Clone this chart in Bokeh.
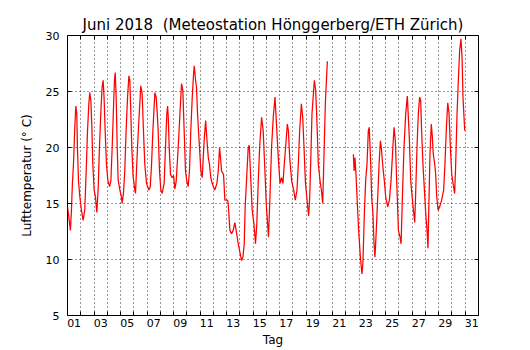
import numpy as np
from bokeh.plotting import figure
from bokeh.models import FixedTicker, LinearAxis, Range1d, CustomJSTickFormatter
from bokeh.embed import file_html
from bokeh.resources import INLINE

# Tag (1.0 = 1. Juni 00:00), Lufttemperatur in Grad C
tag_a = [1.00, 1.10, 1.22, 1.30, 1.37, 1.45, 1.55, 1.63, 1.70, 1.75,
         1.83, 1.93, 2.05, 2.18, 2.30, 2.41, 2.51, 2.61, 2.68, 2.76,
         2.83, 2.91, 3.01, 3.11, 3.21, 3.31, 3.41, 3.51, 3.61, 3.69,
         3.76, 3.84, 3.94, 4.04, 4.17, 4.27, 4.37, 4.47, 4.54, 4.60,
         4.67, 4.75, 4.82, 4.95, 5.07, 5.12, 5.22, 5.32, 5.42, 5.53,
         5.63, 5.70, 5.78, 5.85, 5.95, 6.08, 6.13, 6.28, 6.41, 6.53,
         6.63, 6.73, 6.83, 6.96, 7.14, 7.24, 7.34, 7.44, 7.59, 7.69,
         7.77, 7.84, 7.94, 8.04, 8.14, 8.29, 8.39, 8.49, 8.55, 8.60,
         8.67, 8.77, 8.90, 9.00, 9.10, 9.20, 9.35, 9.48, 9.60, 9.70,
         9.80, 9.90, 10.00, 10.10, 10.20, 10.30, 10.41, 10.51, 10.56, 10.66,
         10.73, 10.81, 10.91, 11.06, 11.16, 11.30, 11.42, 11.50, 11.56, 11.62,
         11.71, 11.81, 11.91, 12.01, 12.11, 12.27, 12.37, 12.47, 12.54, 12.62,
         12.77, 12.87, 13.07, 13.12, 13.25, 13.37, 13.50, 13.62, 13.72, 13.88,
         13.98, 14.13, 14.23, 14.33, 14.40, 14.50, 14.63, 14.71, 14.83, 14.93,
         15.06, 15.18, 15.28, 15.39, 15.49, 15.64, 15.76, 15.89, 15.99, 16.09,
         16.16, 16.27, 16.39, 16.52, 16.65, 16.72, 16.83, 16.93, 17.03, 17.15,
         17.25, 17.35, 17.45, 17.58, 17.66, 17.76, 17.91, 18.06, 18.18, 18.31,
         18.41, 18.51, 18.64, 18.74, 18.84, 18.94, 19.09, 19.19, 19.27, 19.34,
         19.44, 19.62, 19.72, 19.82, 19.92, 20.05, 20.15, 20.25, 20.35, 20.45,
         20.60]
temp_a = [14.7, 13.8, 12.6, 14.5, 16.8, 18.5, 21.8, 23.7, 23.0, 20.0,
          17.0, 15.6, 14.4, 13.5, 14.4, 17.9, 21.5, 23.9, 24.9, 24.2,
          22.1, 18.5, 16.2, 15.6, 14.2, 16.2, 20.0, 23.0, 25.4, 26.0,
          24.4, 21.5, 18.5, 17.1, 16.5, 17.0, 20.0, 23.6, 26.0, 26.7,
          24.5, 20.0, 17.1, 16.2, 15.6, 15.0, 15.9, 17.9, 21.5, 24.5,
          26.4, 26.0, 23.0, 20.0, 17.4, 16.2, 15.9, 20.0, 23.0, 25.5,
          24.8, 21.5, 18.5, 16.8, 16.2, 16.5, 18.5, 21.5, 24.9, 24.5,
          23.0, 21.5, 17.9, 16.2, 15.9, 16.8, 20.0, 23.0, 23.7, 22.7,
          20.0, 17.6, 17.3, 17.5, 16.3, 17.0, 20.0, 23.0, 25.7, 25.1,
          21.5, 17.9, 17.0, 16.5, 17.9, 21.5, 24.5, 26.6, 27.3, 26.0,
          25.4, 23.0, 20.9, 17.9, 17.3, 20.5, 22.4, 21.0, 20.0, 19.1,
          18.5, 17.3, 16.8, 16.5, 16.2, 16.8, 17.9, 20.0, 19.1, 17.9,
          17.6, 15.3, 15.3, 15.0, 12.6, 12.3, 12.6, 13.3, 12.6, 11.4,
          10.8, 9.9, 10.2, 11.4, 14.7, 17.0, 20.0, 20.2, 17.0, 14.4,
          13.2, 11.4, 13.2, 17.0, 20.0, 22.7, 21.5, 17.9, 15.0, 13.2,
          12.0, 15.6, 20.0, 22.7, 24.5, 23.0, 20.6, 18.5, 16.8, 17.3,
          16.8, 18.5, 20.0, 22.1, 21.5, 19.1, 17.0, 16.2, 15.3, 16.2,
          18.5, 21.5, 23.9, 22.7, 20.0, 17.0, 15.0, 13.9, 15.6, 18.5,
          23.0, 26.0, 25.1, 22.1, 18.5, 17.0, 16.2, 15.0, 19.5, 24.0,
          27.7]

tag_b = [22.56, 22.62, 22.68, 22.76, 22.86, 22.96, 23.09, 23.21, 23.28, 23.39,
         23.49, 23.59, 23.69, 23.76, 23.87, 23.94, 24.04, 24.12, 24.19, 24.29,
         24.40, 24.50, 24.60, 24.67, 24.77, 24.90, 25.00, 25.15, 25.28, 25.40,
         25.50, 25.63, 25.73, 25.83, 25.96, 26.08, 26.16, 26.26, 26.38, 26.51,
         26.63, 26.71, 26.79, 26.89, 27.04, 27.19, 27.26, 27.36, 27.46, 27.56,
         27.64, 27.71, 27.81, 27.92, 28.02, 28.12, 28.19, 28.27, 28.34, 28.44,
         28.52, 28.59, 28.70, 28.77, 28.85, 28.95, 29.07, 29.22, 29.37, 29.47,
         29.58, 29.68, 29.78, 29.88, 29.98, 30.08, 30.20, 30.28, 30.38, 30.48,
         30.58, 30.68, 30.76, 30.83, 30.96]
temp_b = [19.4, 17.9, 19.1, 17.6, 15.0, 12.6, 10.2, 8.7, 9.6, 14.1,
          17.1, 18.5, 21.5, 21.8, 18.5, 15.6, 14.1, 11.4, 10.2, 12.6,
          15.6, 18.5, 20.6, 20.0, 18.5, 17.0, 15.6, 14.7, 15.3, 17.0,
          19.1, 21.8, 20.6, 17.0, 12.6, 12.0, 11.4, 15.6, 20.0, 23.0,
          24.6, 22.7, 20.6, 17.0, 15.0, 13.3, 15.9, 20.0, 23.0, 24.5,
          24.2, 21.5, 18.5, 16.2, 14.1, 12.6, 11.0, 15.6, 19.4, 22.1,
          20.9, 19.4, 18.5, 17.6, 15.6, 14.4, 14.7, 15.3, 16.2, 18.5,
          21.8, 24.0, 23.0, 20.0, 17.6, 16.8, 15.9, 18.5, 23.0, 26.0,
          28.7, 29.7, 28.0, 24.5, 21.5]

day_bounds = list(range(2, 32))            # Tagesgrenzen (Gitter)
label_days = list(range(1, 32, 2))         # beschriftete Tage
y_ticks = [5, 10, 15, 20, 25, 30]

FONT = "DejaVu Sans"

p = figure(width=530, height=350, x_range=Range1d(1, 32), y_range=Range1d(5, 30),
           output_backend="svg", toolbar_location=None,
           min_border_left=67, min_border_right=52, min_border_top=35, min_border_bottom=35,
           background_fill_color="white", border_fill_color="white")

p.title.text = "Juni 2018\u00a0 (Meteostation Hönggerberg/ETH Zürich)"
p.title.align = "center"
p.title.text_font = FONT
p.title.text_font_size = "15px"
p.title.text_font_style = "normal"
p.title.text_color = "black"
p.title.standoff = 4

p.outline_line_color = "black"
p.outline_line_width = 1
p.outline_line_alpha = 1

x = list(tag_a) + [np.nan] + list(tag_b)
y = list(temp_a) + [np.nan] + list(temp_b)
p.line(x, y, line_color="red", line_width=1.25)

# bottom axis: labels at day centres, tick marks at day boundaries
xa = p.xaxis[0]
xa.ticker = FixedTicker(ticks=[d + 0.5 for d in label_days], minor_ticks=day_bounds)
xa.formatter = CustomJSTickFormatter(code="return String(Math.floor(tick)).padStart(2, '0');")
xa.major_tick_in = 0
xa.major_tick_out = 0
xa.minor_tick_in = 4
xa.minor_tick_out = 0
xa.minor_tick_line_color = "black"
xa.axis_line_color = None
xa.major_label_text_font = FONT
xa.major_label_text_font_size = "11px"
xa.major_label_text_color = "black"
xa.major_label_standoff = 3
xa.axis_label = "Tag"
xa.axis_label_text_font = FONT
xa.axis_label_text_font_size = "12px"
xa.axis_label_text_font_style = "normal"
xa.axis_label_text_color = "black"
xa.axis_label_standoff = 3

ya = p.yaxis[0]
ya.ticker = FixedTicker(ticks=y_ticks)
ya.major_tick_in = 4
ya.major_tick_out = 0
ya.major_tick_line_color = "black"
ya.minor_tick_line_color = None
ya.axis_line_color = None
ya.major_label_text_font = FONT
ya.major_label_text_font_size = "11px"
ya.major_label_text_color = "black"
ya.major_label_standoff = 8
ya.axis_label = "Lufttemperatur (° C)"
ya.axis_label_text_font = FONT
ya.axis_label_text_font_size = "12px"
ya.axis_label_text_font_style = "normal"
ya.axis_label_text_color = "black"
ya.axis_label_standoff = 9

top = LinearAxis(ticker=FixedTicker(ticks=[], minor_ticks=day_bounds),
                 major_tick_in=0, major_tick_out=0, minor_tick_in=4, minor_tick_out=0,
                 minor_tick_line_color="black", axis_line_color=None, major_label_standoff=0)
p.add_layout(top, "above")

right = LinearAxis(ticker=FixedTicker(ticks=[], minor_ticks=y_ticks),
                   major_tick_in=0, major_tick_out=0, minor_tick_in=4, minor_tick_out=0,
                   minor_tick_line_color="black", axis_line_color=None, major_label_standoff=0)
p.add_layout(right, "right")

p.xgrid.ticker = FixedTicker(ticks=day_bounds)
p.ygrid.ticker = FixedTicker(ticks=y_ticks)
for g in (p.xgrid, p.ygrid):
    g.grid_line_color = "black"
    g.grid_line_dash = "1 3"
    g.grid_line_width = 1
    g.grid_line_alpha = 0.8

open("out.html", "w").write(file_html(p, INLINE))
